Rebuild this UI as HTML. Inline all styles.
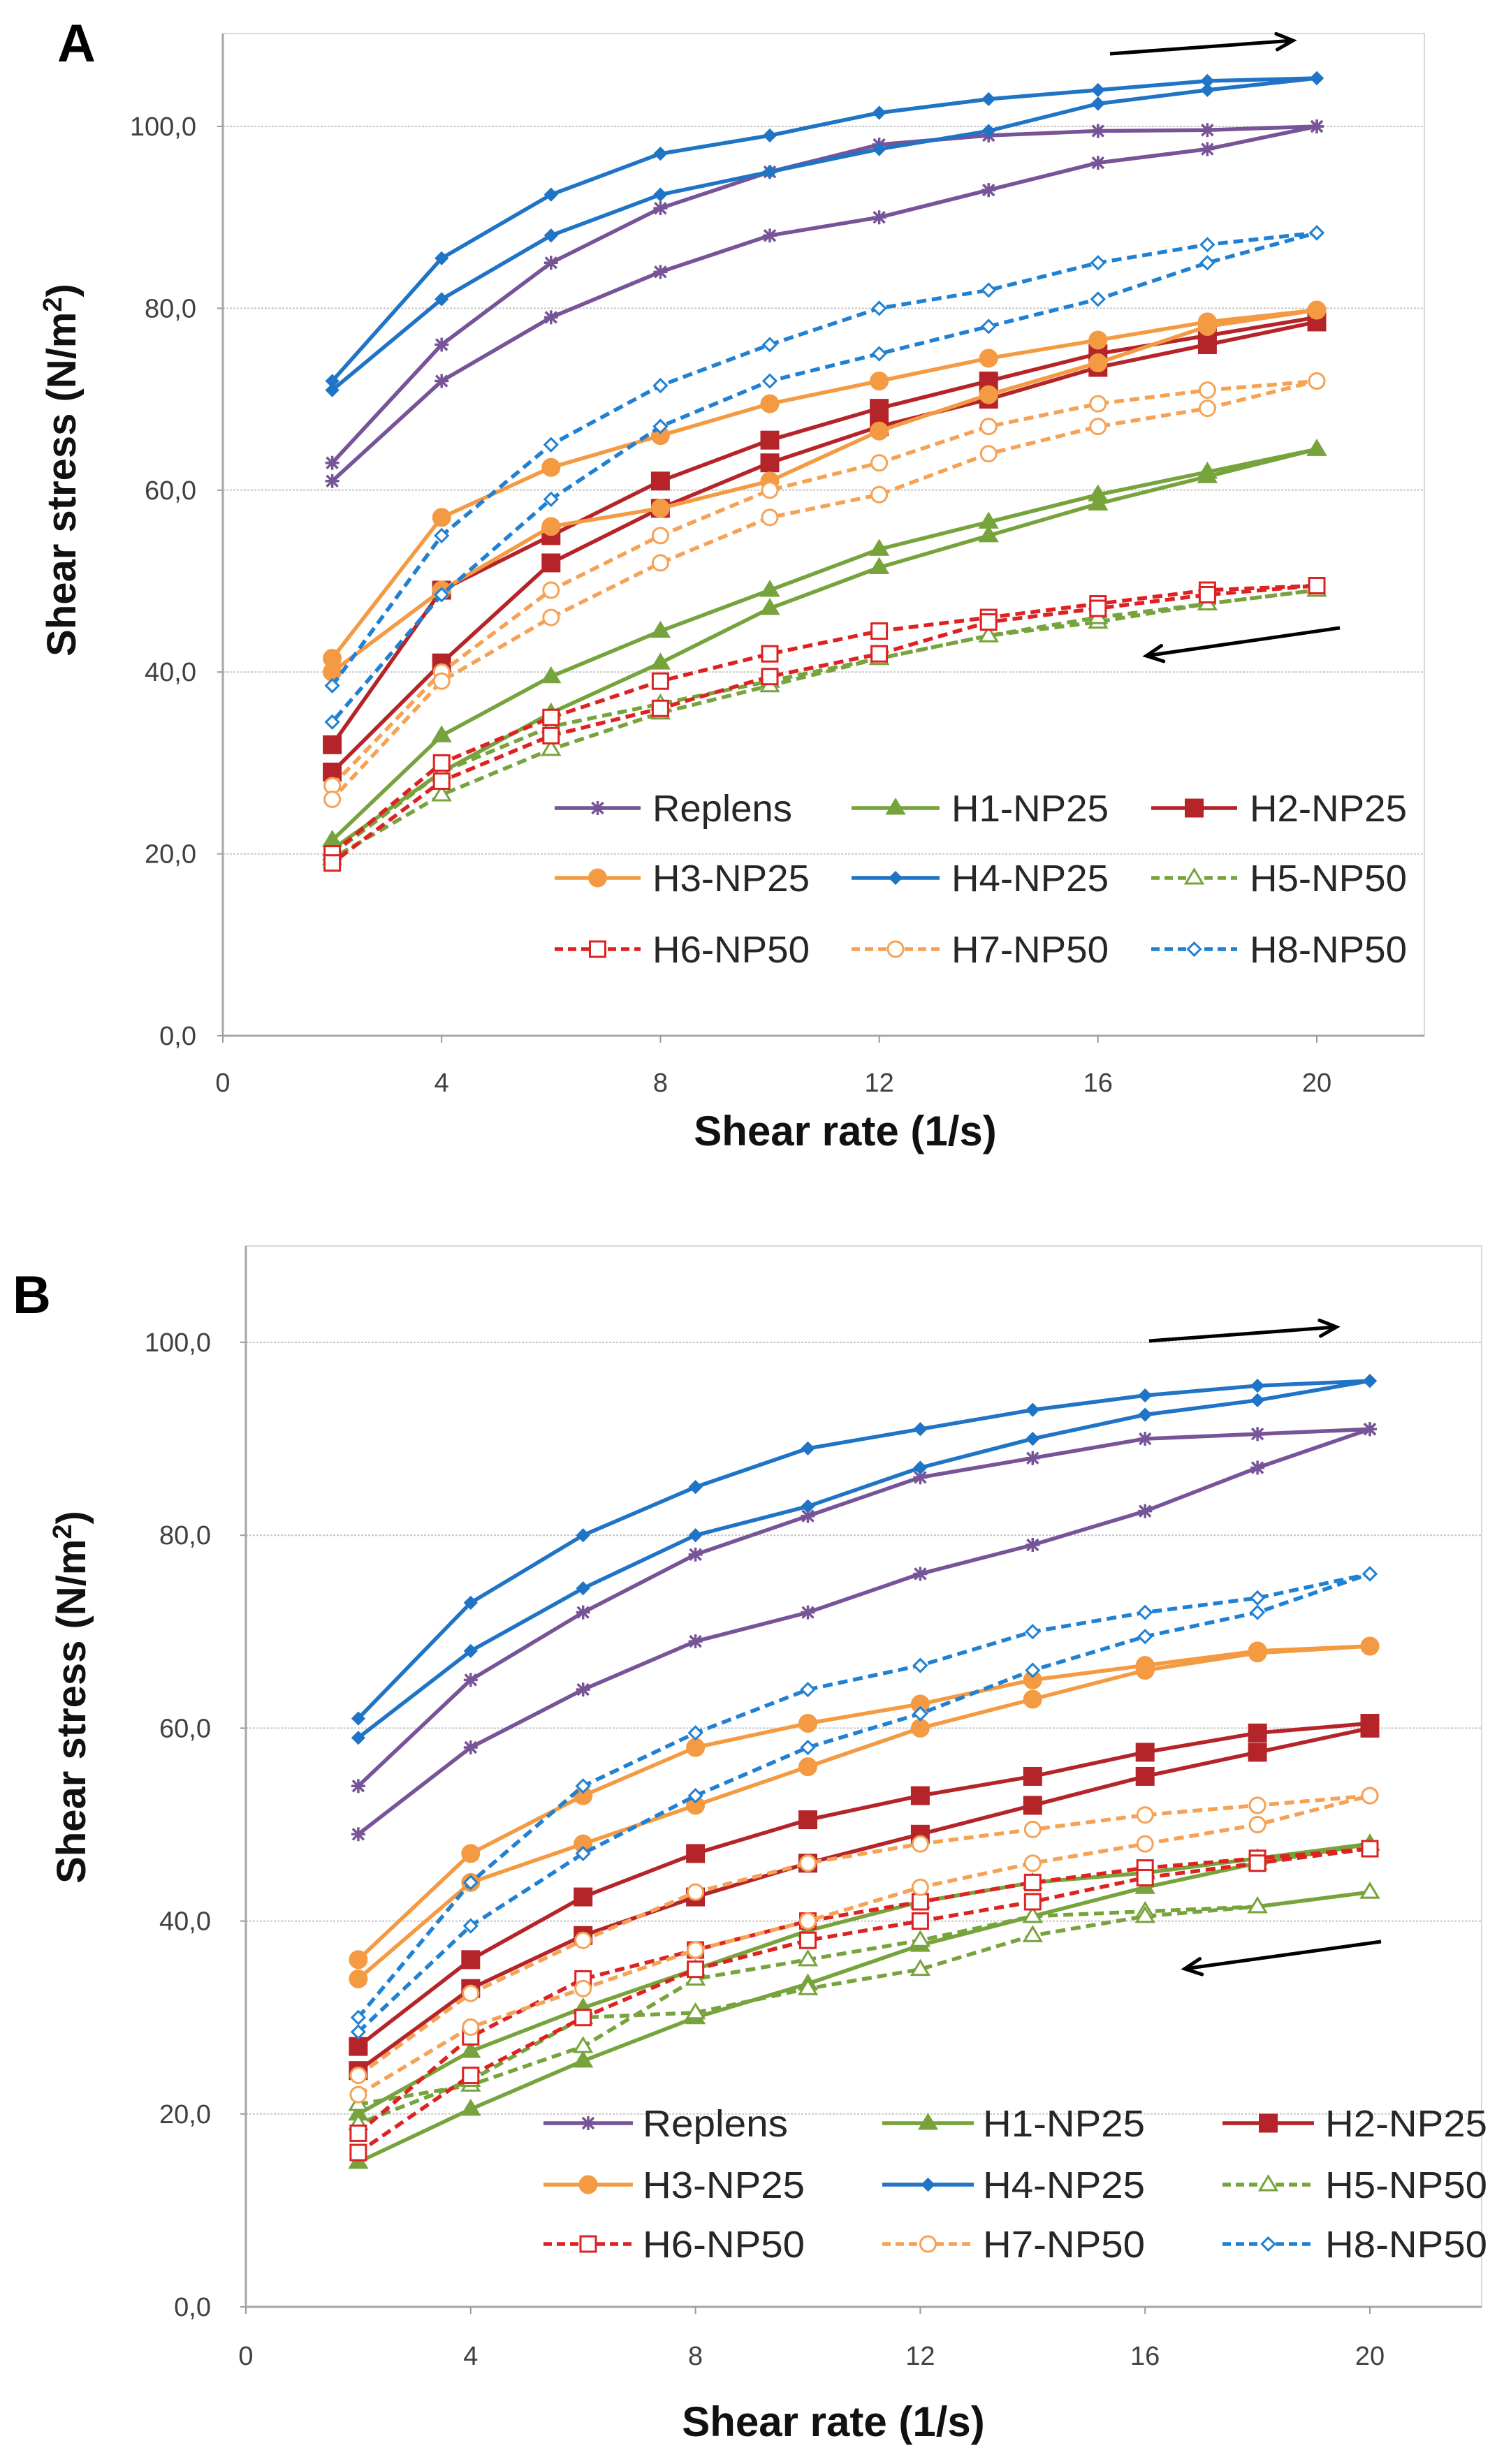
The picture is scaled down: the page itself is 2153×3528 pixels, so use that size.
<!DOCTYPE html>
<html><head><meta charset="utf-8"><style>
html,body{margin:0;padding:0;background:#fff;width:2153px;height:3528px;overflow:hidden}
svg{display:block;font-family:"Liberation Sans",sans-serif}
</style></head><body>
<svg id="chart" width="2153" height="3528" viewBox="0 0 2153 3528" xmlns="http://www.w3.org/2000/svg"></svg>
<script>
const xCategories = [2,4,6,8,10,12,14,16,18,20];
const xTickLabels = ["0","4","8","12","16","20"];
const xTickValues = [0,4,8,12,16,20];
const yTickValues = [0,20,40,60,80,100];
const yTickLabels = ["0,0","20,0","40,0","60,0","80,0","100,0"];
const seriesNames = ["Replens","H1-NP25","H2-NP25","H3-NP25","H4-NP25","H5-NP50","H6-NP50","H7-NP50","H8-NP50"];
const aUp = {
 "Replens":[63,76,85,91,95,98,99,99.5,99.6,100],
 "H1-NP25":[21.5,33,39.5,44.5,49,53.5,56.5,59.5,62,64.5],
 "H2-NP25":[32,49,55,61,65.5,69,72,75,77,79],
 "H3-NP25":[41.5,57,62.5,66,69.5,72,74.5,76.5,78.5,79.8],
 "H4-NP25":[72,85.5,92.5,97,99,101.5,103,104,105,105.3],
 "H5-NP50":[20,29,34,36.5,39,41.5,44,45.5,47.5,49],
 "H6-NP50":[20,30,35,39,42,44.5,46,47.5,49,49.5],
 "H7-NP50":[27.5,40,49,55,60,63,67,69.5,71,72],
 "H8-NP50":[38.5,55,65,71.5,76,80,82,85,87,88.3]
};
const aDown = {
 "Replens":[61,72,79,84,88,90,93,96,97.5,100],
 "H1-NP25":[20.5,29,35.5,41,47,51.5,55,58.5,61.5,64.5],
 "H2-NP25":[29,41,52,58,63,67,70,73.5,76,78.5],
 "H3-NP25":[40,49,56,58,61,66.5,70.5,74,78,79.8],
 "H4-NP25":[71,81,88,92.5,95,97.5,99.5,102.5,104,105.3],
 "H5-NP50":[19.5,26.5,31.5,35.5,38.5,41.5,44,46,47.5,49],
 "H6-NP50":[19,28,33,36,39.5,42,45.5,47,48.5,49.5],
 "H7-NP50":[26,39,46,52,57,59.5,64,67,69,72],
 "H8-NP50":[34.5,48.5,59,67,72,75,78,81,85,88.3]
};
const bUp = {
 "Replens":[54,65,72,78,82,86,88,90,90.5,91],
 "H1-NP25":[20,26.5,31,35,39,42,44,45,46.5,48],
 "H2-NP25":[27,36,42.5,47,50.5,53,55,57.5,59.5,60.5],
 "H3-NP25":[36,47,53,58,60.5,62.5,65,66.5,68,68.5],
 "H4-NP25":[61,73,80,85,89,91,93,94.5,95.5,96],
 "H5-NP50":[21,23,27,34,36,38,40.5,41,41.5,43],
 "H6-NP50":[18,28,34,37,40,42,44,45.5,46.5,47.5],
 "H7-NP50":[22,29,33,37,40,43.5,46,48,50,53],
 "H8-NP50":[30,44,54,59.5,64,66.5,70,72,73.5,76]
};
const bDown = {
 "Replens":[49,58,64,69,72,76,79,82.5,87,91],
 "H1-NP25":[15,20.5,25.5,30,33.5,37.5,40.5,43.5,46,48],
 "H2-NP25":[24.5,33,38.5,42.5,46,49,52,55,57.5,60],
 "H3-NP25":[34,44,48,52,56,60,63,66,67.8,68.5],
 "H4-NP25":[59,68,74.5,80,83,87,90,92.5,94,96],
 "H5-NP50":[19,23.5,30,30.5,33,35,38.5,40.5,41.5,43],
 "H6-NP50":[16,24,30,35,38,40,42,44.5,46,47.5],
 "H7-NP50":[24,32.5,38,43,46,48,49.5,51,52,53],
 "H8-NP50":[28.5,39.5,47,53,58,61.5,66,69.5,72,76]
};
const styles = {
 "Replens":{c:"#765497",d:false,m:"star"},
 "H1-NP25":{c:"#77a33c",d:false,m:"tri",f:true},
 "H2-NP25":{c:"#b52429",d:false,m:"sq",f:true},
 "H3-NP25":{c:"#f39a42",d:false,m:"circ",f:true},
 "H4-NP25":{c:"#1f74c6",d:false,m:"dia",f:true},
 "H5-NP50":{c:"#77a33c",d:true,m:"tri",f:false},
 "H6-NP50":{c:"#dd2222",d:true,m:"sq",f:false},
 "H7-NP50":{c:"#f5a255",d:true,m:"circ",f:false},
 "H8-NP50":{c:"#2080d2",d:true,m:"dia",f:false}
};
const svg = document.getElementById('chart');
const NS = "http://www.w3.org/2000/svg";
function mk(tag, attrs, parent){const e=document.createElementNS(NS,tag);for(const k in attrs)e.setAttribute(k,attrs[k]);(parent||svg).appendChild(e);return e;}

function marker(g, m, x, y, col, filled){
  const r=10; const fill = filled ? col : "#fff";
  let e;
  if(m==="star"){
    e=mk('path',{d:`M${x-r} ${y}H${x+r}M${x} ${y-r}V${y+r}M${x-8} ${y-8}L${x+8} ${y+8}M${x-8} ${y+8}L${x+8} ${y-8}`,stroke:col,'stroke-width':3.5,fill:'none'},g);
  } else if(m==="tri"){
    e=mk('path',{d:`M${x} ${y-r-2}L${x+r+2} ${y+r-2}L${x-r-2} ${y+r-2}Z`,fill:fill,stroke:col,'stroke-width':3},g);
  } else if(m==="sq"){
    const s = filled?12:11;
    e=mk('rect',{x:x-s,y:y-s,width:2*s,height:2*s,fill:fill,stroke:col,'stroke-width':3},g);
  } else if(m==="circ"){
    e=mk('circle',{cx:x,cy:y,r:filled?12:11,fill:fill,stroke:col,'stroke-width':3},g);
  } else {
    const s=filled?8:9;
    e=mk('path',{d:`M${x} ${y-s}L${x+s} ${y}L${x} ${y+s}L${x-s} ${y}Z`,fill:fill,stroke:col,'stroke-width':3},g);
  }
  
  
}

function panel(P){
  const xs = v => P.x0 + (P.x20-P.x0)*v/20;
  const ys = v => P.y0 - (P.y0-P.y100)*v/100;
  const g = mk('g',{});
  
  
  const fr=mk('rect',{x:P.x0,y:P.top,width:P.right-P.x0,height:P.y0-P.top,fill:'none',stroke:'#d9d9d9','stroke-width':2},g);
  
  
  yTickValues.forEach((v,i)=>{
    if(v>0){const gl=mk('line',{x1:P.x0,x2:P.right,y1:ys(v),y2:ys(v),stroke:'#c8c8c8','stroke-width':2,'stroke-dasharray':'3 2'},g);
      
      }
    const t=mk('text',{x:P.ytx,y:ys(v)+13,'text-anchor':'end','font-size':38,fill:'#404040'},g);
    t.textContent=yTickLabels[i];
    
    
    mk('line',{x1:P.x0-8,x2:P.x0,y1:ys(v),y2:ys(v),stroke:'#999','stroke-width':2},g);
  });
  const ya=mk('line',{x1:P.x0,x2:P.x0,y1:P.top,y2:P.y0,stroke:'#a6a6a6','stroke-width':3},g);
  
  
  const xa=mk('line',{x1:P.x0,x2:P.right,y1:P.y0,y2:P.y0,stroke:'#a6a6a6','stroke-width':3},g);
  
  
  xTickValues.forEach((v,i)=>{
    mk('line',{x1:xs(v),x2:xs(v),y1:P.y0,y2:P.y0+10,stroke:'#999','stroke-width':2},g);
    const t=mk('text',{x:xs(v),y:P.xty,'text-anchor':'middle','font-size':38,fill:'#404040'},g);
    t.textContent=xTickLabels[i];
    
    
  });
  seriesNames.forEach(n=>{
    const st=styles[n];
    const up=P.up[n], dn=P.down[n];
    const pts=[];
    xCategories.forEach((c,i)=>pts.push([xs(c),ys(up[i])]));
    for(let i=xCategories.length-1;i>=0;i--)pts.push([xs(xCategories[i]),ys(dn[i])]);
    const sg=mk('g',{},g);
    
    
    const attrs={d:'M'+pts.map(p=>p[0].toFixed(1)+' '+p[1].toFixed(1)).join('L'),fill:'none',stroke:st.c,'stroke-width':5.5,'stroke-linejoin':'round'};
    if(st.d)attrs['stroke-dasharray']='14 8';
    const pl=mk('path',attrs,sg);
    
    
    pts.forEach(p=>marker(sg,st.m,p[0],p[1],st.c,st.f));
  });
  const lg=mk('g',{},g);
  
  
  seriesNames.forEach((n,i)=>{
    const st=styles[n]; const r=Math.floor(i/3), c=i%3;
    const y=P.legRows[r]; const [lx1,lx2,tx]=P.legCols[c];
    const eg=mk('g',{},lg);
    
    
    const la={x1:lx1,x2:lx2,y1:y,y2:y,stroke:st.c,'stroke-width':5.5};
    if(st.d)la['stroke-dasharray']='12 7';
    mk('line',la,eg);
    marker(eg,st.m,(lx1+lx2)/2,y,st.c,st.f);
    const t=mk('text',{x:tx,y:y+19,'font-size':54,fill:'#262626',textLength:P.legLen[i],lengthAdjust:'spacingAndGlyphs'},eg);
    t.textContent=n;
  });
  P.arrows.forEach(a=>{
    const [x1,y1,x2,y2]=a;
    const ag=mk('g',{},g);
    
    
    mk('line',{x1,y1,x2,y2,stroke:'#000','stroke-width':5},ag);
    const ang=Math.atan2(y2-y1,x2-x1), L=26;
    const p1=[x2-L*Math.cos(ang-0.45),y2-L*Math.sin(ang-0.45)], p2=[x2-L*Math.cos(ang+0.45),y2-L*Math.sin(ang+0.45)];
    mk('path',{d:`M${p1[0]} ${p1[1]}L${x2} ${y2}L${p2[0]} ${p2[1]}`,stroke:'#000','stroke-width':5,fill:'none','stroke-linecap':'round'},ag);
  });
  const xt=mk('text',{x:P.xtitle[0],y:P.xtitle[1],'text-anchor':'middle','font-size':60,'font-weight':'bold',fill:'#111'},g);
  xt.textContent='Shear rate (1/s)';
  
  
  const yt=mk('text',{x:0,y:0,'text-anchor':'middle','font-size':58,'font-weight':'bold',fill:'#111',transform:`translate(${P.ytitle[0]},${P.ytitle[1]}) rotate(-90)`},g);
  yt.innerHTML='Shear stress (N/m<tspan dy="-20" font-size="38">2</tspan><tspan dy="20">)</tspan>';
  
  
  const pl=mk('text',{x:P.letter[0],y:P.letter[1],'font-size':76,'font-weight':'bold',fill:'#000'},g);
  pl.textContent=P.id;
  
  
}

panel({id:'A',x0:319,x20:1885,right:2039,top:48,y0:1483,y100:181,ytx:281,xty:1563,
  up:aUp,down:aDown,legRows:[1157,1257,1359],
  legCols:[[794,917,934],[1219,1345,1362],[1648,1771,1789]],
  legLen:[200,225,225,225,225,225,225,225,225],
  arrows:[[1589,77,1851,58],[1918,899,1641,939]],
  xtitle:[1210,1640],ytitle:[108,673],letter:[82,88]});
panel({id:'B',x0:352,x20:1961,right:2121,top:1784,y0:3303,y100:1922,ytx:302,xty:3386,
  up:bUp,down:bDown,legRows:[3040,3128,3213],
  legCols:[[778,906,920],[1263,1394,1407],[1750,1881,1897]],
  legLen:[208,232,232,232,232,232,232,232,232],
  arrows:[[1645,1920,1913,1900],[1977,2780,1696,2819]],
  xtitle:[1193,3488],ytitle:[122,2430],letter:[18,1880]});
</script>
</body></html>
